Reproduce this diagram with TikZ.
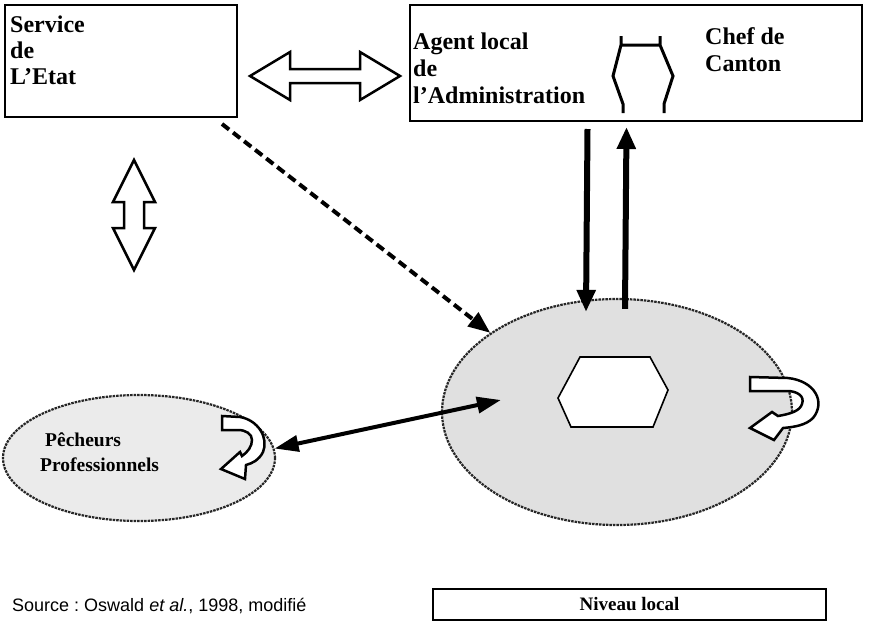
\documentclass[tikz,border=0pt]{standalone}
\usepackage{fontspec}
\setmainfont{Liberation Serif}
\setsansfont{Liberation Sans}
\usetikzlibrary{arrows.meta,shapes.geometric}

\tikzset{
  cadre/.style={draw, line width=2pt, anchor=north west, inner sep=0pt},
  titre/.style={anchor=base west, inner sep=0pt, font=\fontsize{24}{28}\selectfont\bfseries},
  petit titre/.style={anchor=base west, inner sep=0pt, font=\fontsize{19.5}{22}\selectfont\bfseries},
  zone/.style={ellipse, draw=black!85, line width=2.2pt, dash pattern=on 2.5pt off 1pt, inner sep=0pt},
  creux/.style={draw, line width=2.5pt, fill=white, line join=miter},
  fleche/.style={line width=6pt, -{Triangle[length=22pt,width=18pt]}},
}

\begin{document}
\begin{tikzpicture}[x=1pt, y=-1pt]
  \useasboundingbox (0,0) rectangle (869,630);

  % les deux cadres du haut
  \node[cadre, minimum width=232pt, minimum height=112pt] (etat) at (4,4) {};
  \node[titre] (etat1) at (10,32) {Service};
  \node[titre] (etat2) at (10,58) {de};
  \node[titre] (etat3) at (10,84) {L’Etat};

  \node[cadre, minimum width=452pt, minimum height=116pt] (admin) at (409,4) {};
  \node[titre] (agent1) at (413,49) {Agent local};
  \node[titre] (agent2) at (413,76) {de};
  \node[titre] (agent3) at (413,103) {l’Administration};
  \node[titre] (chef1) at (705,44) {Chef de};
  \node[titre] (chef2) at (705,71) {Canton};
  \draw[line width=3pt] (621,36) -- (621,45) -- (660,45) -- (660,36)
    (621,45) -- (613,76) -- (623,104) -- (623,113)
    (660,45) -- (673,76) -- (664,104) -- (664,113);

  % les deux zones
  \node[zone, fill=black!12, minimum width=350pt, minimum height=226pt] (local) at (617,412) {};
  \node[zone, fill=black!8, minimum width=272pt, minimum height=126pt] (pecheurs) at (139,458) {};
  \node[petit titre] (pecheurs1) at (45,446) {Pêcheurs};
  \node[petit titre] (pecheurs2) at (40,471) {Professionnels};

  \draw[line width=1.6pt, fill=white] (580,357) -- (650,357) -- (668,390) -- (653,427)
    -- (571,427) -- (558,398) -- cycle;

  % fleches creuses
  \draw[creux] (250,76) -- (290,52) -- (290,69) -- (360,69) -- (360,52) -- (400,76)
    -- (360,100) -- (360,83) -- (290,83) -- (290,100) -- cycle;
  \draw[creux] (134,160) -- (155,202) -- (144,202) -- (144,228) -- (155,228) -- (134,270)
    -- (113,228) -- (124,228) -- (124,202) -- (113,202) -- cycle;
  \draw[creux] (750,377) -- (788,378) .. controls (815,381) and (826,402) .. (813,418)
    .. controls (806,425) and (795,427) .. (783,428) -- (774,440) -- (750,428)
    -- (772,412) -- (778,416) .. controls (790,414) and (800,411) .. (802,404)
    .. controls (805,396) and (797,391) .. (787,391) -- (750,391) -- cycle;
  \draw[creux] (222,416) -- (240,417) .. controls (258,420) and (269,438) .. (263,452)
    .. controls (259,460) and (253,463) .. (246,465) -- (245,479) -- (221,469)
    -- (240,452) -- (242,456) .. controls (248,452) and (252,446) .. (252,440)
    .. controls (252,434) and (246,430) .. (238,430) -- (222,430) -- cycle;

  % liaisons
  \draw[line width=4pt, dash pattern=on 9pt off 5pt, -{Triangle[length=22pt,width=17pt]}]
    ([xshift=-16pt,yshift=-6pt]etat.south east) -- (local.148);
  \draw[fleche] ([xshift=-48.5pt,yshift=-7pt]admin.south) -- ([xshift=-31pt,yshift=-14pt]local.north);
  \draw[fleche] ([xshift=8pt,yshift=-11pt]local.north) -- ([xshift=-9.5pt,yshift=-5pt]admin.south);
  \draw[line width=4pt, {Triangle[length=24pt,width=16pt]}-{Triangle[length=24pt,width=16pt]}]
    (pecheurs.4) -- ([xshift=60pt,yshift=12pt]local.west);

  % bas de la figure
  \node[anchor=base west, inner sep=0pt, font=\sffamily\fontsize{18}{20}\selectfont] (source)
    at (12,611) {Source :\ Oswald \textit{et al.}, 1998, modifié};
  \node[draw, line width=2pt, minimum width=393pt, minimum height=31pt, inner sep=0pt] (niveau) at (629.5,604.5) {};
  \node[anchor=base, inner sep=0pt, font=\fontsize{19}{22}\selectfont\bfseries] (niveau texte)
    at (629.5,610) {Niveau local};
\end{tikzpicture}
\end{document}
